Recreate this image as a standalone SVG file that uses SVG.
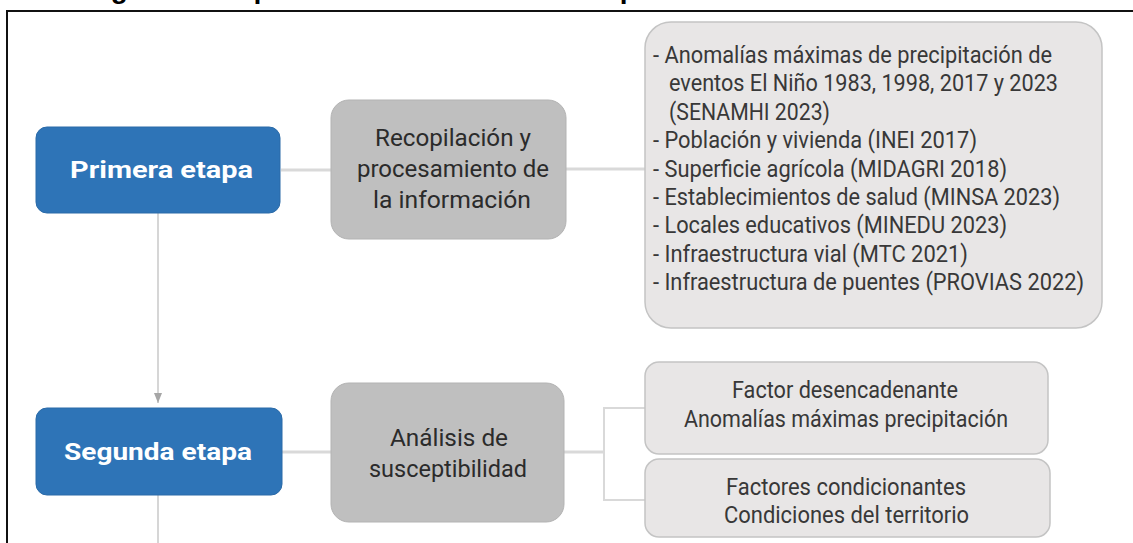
<svg xmlns="http://www.w3.org/2000/svg" width="1133" height="543" viewBox="0 0 1133 543">
<style>
.stage{fill:#2e74b7;stroke:#2a6aa8;stroke-width:1}
.proc{fill:#bfbfbf;stroke:#b3b3b3;stroke-width:1}
.info{fill:#e8e6e6;stroke:#c4c4c4;stroke-width:1.5}
.tw{font-family:Roboto,"Liberation Sans",sans-serif;font-weight:bold;font-size:24px;fill:#ffffff}
.tg{font-family:Roboto,"Liberation Sans",sans-serif;font-size:23px;fill:#2b2b2b}
.tl{font-family:Roboto,"Liberation Sans",sans-serif;font-size:23px;fill:#383838}
.conn{fill:none;stroke:#d9d9d9;stroke-width:3}
.title{font-family:"Liberation Sans",Arial,sans-serif;font-weight:bold;font-size:28px;fill:#000}
</style>
<defs>
<marker id="arr" viewBox="0 0 10 10" refX="10" refY="5" markerWidth="10" markerHeight="10" markerUnits="userSpaceOnUse" orient="auto">
<path d="M0,1 L10,5 L0,9 Z" fill="#a6a6a6"/>
</marker>
</defs>
<rect width="1133" height="543" fill="#ffffff"/>
<text class="title" x="86" y="-2" textLength="940" lengthAdjust="spacingAndGlyphs">Figura 3. Esquema del análisis de susceptibilidad ante El Niño en Lima</text>
<path d="M7,543 V11 H1133" fill="none" stroke="#111" stroke-width="2"/>
<g id="connectors">
<line class="conn" x1="281" y1="170" x2="331" y2="170"/>
<line class="conn" x1="566" y1="169" x2="645" y2="169"/>
<line x1="158" y1="213" x2="158" y2="403" stroke="#d6d6d6" stroke-width="2" marker-end="url(#arr)"/>
<line x1="158" y1="495" x2="158" y2="543" stroke="#d6d6d6" stroke-width="2"/>
<line class="conn" x1="282" y1="452" x2="331" y2="452"/>
<line class="conn" x1="564" y1="452" x2="604" y2="452"/>
<path d="M645,408 H604 V500 H645" fill="none" stroke="#d9d9d9" stroke-width="2"/>
</g>
<g id="primera-etapa">
<rect class="stage" x="36" y="127" width="244" height="86" rx="11"/>
<text class="tw" x="70" y="178" textLength="183" lengthAdjust="spacingAndGlyphs">Primera etapa</text>
</g>
<g id="recopilacion">
<rect class="proc" x="331" y="100" width="235" height="139" rx="18"/>
<text class="tg" x="375" y="146" textLength="156" lengthAdjust="spacingAndGlyphs">Recopilación y</text>
<text class="tg" x="357" y="177" textLength="192" lengthAdjust="spacingAndGlyphs">procesamiento de</text>
<text class="tg" x="373" y="208" textLength="158" lengthAdjust="spacingAndGlyphs">la información</text>
</g>
<g id="fuentes">
<rect class="info" x="645" y="22" width="457" height="306" rx="26"/>
<text class="tl" x="653" y="63" textLength="399" lengthAdjust="spacingAndGlyphs">- Anomalías máximas de precipitación de</text>
<text class="tl" x="669" y="91" textLength="389" lengthAdjust="spacingAndGlyphs">eventos El Niño 1983, 1998, 2017 y 2023</text>
<text class="tl" x="669" y="120" textLength="161" lengthAdjust="spacingAndGlyphs">(SENAMHI 2023)</text>
<text class="tl" x="653" y="148" textLength="324" lengthAdjust="spacingAndGlyphs">- Población y vivienda (INEI 2017)</text>
<text class="tl" x="653" y="177" textLength="354" lengthAdjust="spacingAndGlyphs">- Superficie agrícola (MIDAGRI 2018)</text>
<text class="tl" x="653" y="205" textLength="407" lengthAdjust="spacingAndGlyphs">- Establecimientos de salud (MINSA 2023)</text>
<text class="tl" x="653" y="233" textLength="354" lengthAdjust="spacingAndGlyphs">- Locales educativos (MINEDU 2023)</text>
<text class="tl" x="653" y="262" textLength="315" lengthAdjust="spacingAndGlyphs">- Infraestructura vial (MTC 2021)</text>
<text class="tl" x="653" y="290" textLength="431" lengthAdjust="spacingAndGlyphs">- Infraestructura de puentes (PROVIAS 2022)</text>
</g>
<g id="segunda-etapa">
<rect class="stage" x="36" y="408" width="246" height="87" rx="11"/>
<text class="tw" x="64" y="460" textLength="188" lengthAdjust="spacingAndGlyphs">Segunda etapa</text>
</g>
<g id="analisis">
<rect class="proc" x="331" y="383" width="233" height="139" rx="18"/>
<text class="tg" x="390" y="446" textLength="118" lengthAdjust="spacingAndGlyphs">Análisis de</text>
<text class="tg" x="369" y="477" textLength="158" lengthAdjust="spacingAndGlyphs">susceptibilidad</text>
</g>
<g id="factor-desencadenante">
<rect class="info" x="645" y="362" width="403" height="92" rx="14"/>
<text class="tl" x="732" y="398" textLength="226" lengthAdjust="spacingAndGlyphs">Factor desencadenante</text>
<text class="tl" x="684" y="427" textLength="324" lengthAdjust="spacingAndGlyphs">Anomalías máximas precipitación</text>
</g>
<g id="factores-condicionantes">
<rect class="info" x="645" y="459" width="405" height="78" rx="14"/>
<text class="tl" x="726" y="495" textLength="240" lengthAdjust="spacingAndGlyphs">Factores condicionantes</text>
<text class="tl" x="724" y="523" textLength="245" lengthAdjust="spacingAndGlyphs">Condiciones del territorio</text>
</g>
</svg>
